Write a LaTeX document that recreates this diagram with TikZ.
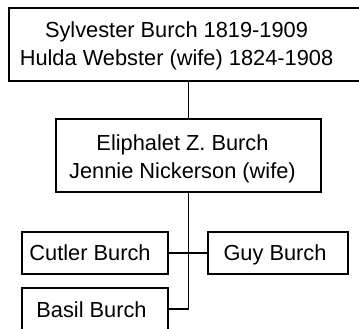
\documentclass[tikz,border=0pt]{standalone}
\usepackage{fontspec}
\setmainfont{Liberation Sans}
\begin{document}
\begin{tikzpicture}[x=1pt,y=-1pt,
  box/.style={draw=black,line width=1.3pt,fill=white,inner sep=0pt},
  txt/.style={inner sep=0pt,anchor=base,font=\fontsize{21.8}{27.5}\selectfont},
  conn/.style={draw=black,line width=1.3pt}]
\useasboundingbox (0,0) rectangle (359,329);
\node[box,minimum width=358pt,minimum height=73pt] (top) at (188,44.5) {};
\node[txt] (ttop) at (176.5,38) {\begin{tabular}[t]{@{}c@{}}Sylvester Burch 1819-1909\\Hulda Webster (wife) 1824-1908\end{tabular}};
\node[box,minimum width=265pt,minimum height=73pt] (mid) at (188.5,155.5) {};
\node[txt] (tmid) at (182.5,150.5) {\begin{tabular}[t]{@{}c@{}}Eliphalet Z. Burch\\Jennie Nickerson (wife)\end{tabular}};
\node[box,minimum width=146pt,minimum height=42pt] (cutler) at (95,253) {};
\node[txt] (tcutler) at (90,260.5) {Cutler Burch};
\node[box,minimum width=140pt,minimum height=42pt] (guy) at (278,253) {};
\node[txt] (tguy) at (275,260.5) {Guy Burch};
\node[box,minimum width=146pt,minimum height=42pt] (basil) at (95,309) {};
\node[txt] (tbasil) at (91.5,317) {Basil Burch};
\coordinate (j) at (mid.south |- basil.east);
\draw[conn] (top.south -| mid.north) -- (mid.north);
\draw[conn] (mid.south) -- (j) -- (basil.east);
\draw[conn] (cutler.east) -- (guy.west);
\end{tikzpicture}
\end{document}
